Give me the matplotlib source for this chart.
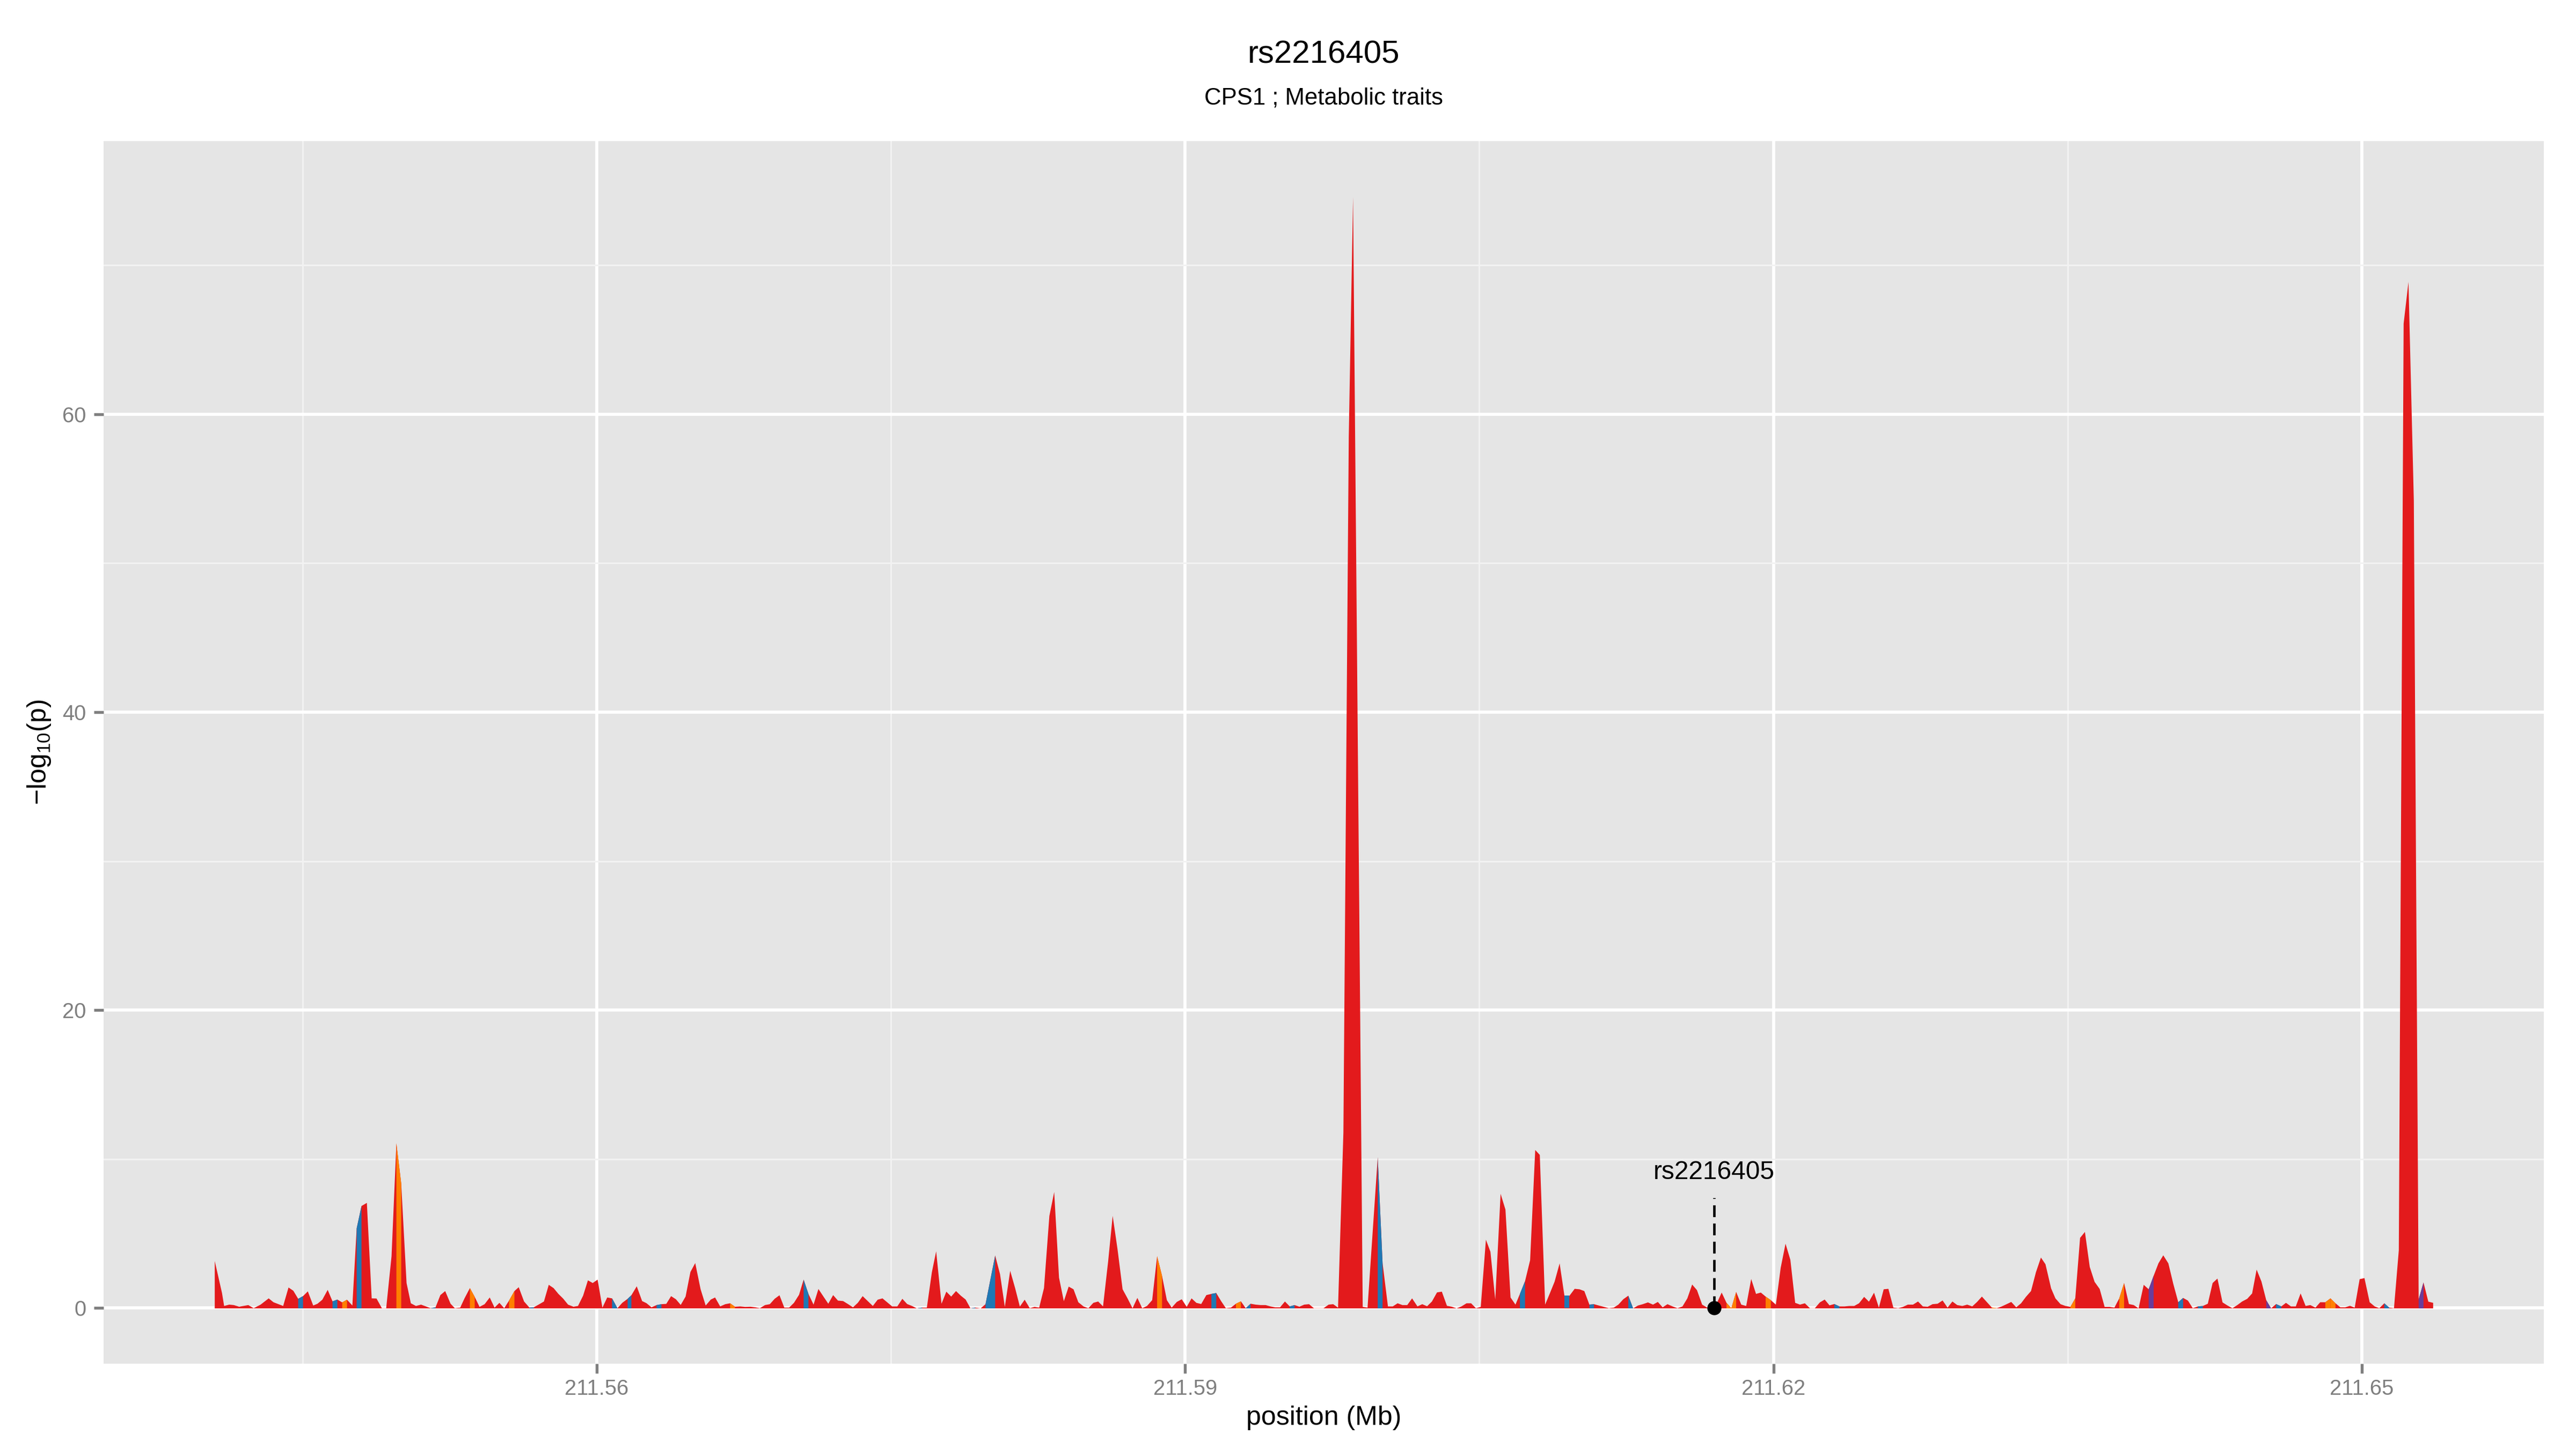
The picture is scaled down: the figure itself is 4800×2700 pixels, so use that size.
import numpy as np
import matplotlib
matplotlib.use('Agg')
import matplotlib.pyplot as plt

# regional association track for the lead SNP
# positions in bp, -log10(p), and the class of the segment that starts at each SNP
pos_bp = [
    211540506, 211540876, 211540985, 211541245, 211541477, 211541751, 211542216, 211542490, 211542845, 211543256,
    211543502, 211543995, 211544268, 211544514, 211544761, 211545007, 211545253, 211545527, 211545746, 211545992,
    211546265, 211546512, 211546758, 211547004, 211547250, 211547524, 211547743, 211547989, 211548263, 211548509,
    211548755, 211549029, 211549248, 211549521, 211549768, 211550014, 211550287, 211550506, 211550766, 211551026,
    211551272, 211551519, 211551765, 211552011, 211552257, 211552531, 211552750, 211553023, 211553242, 211553516,
    211553762, 211554008, 211554268, 211554528, 211554774, 211555021, 211555267, 211555513, 211555787, 211556006,
    211556279, 211556553, 211556772, 211557018, 211557292, 211557538, 211557784, 211558030, 211558276, 211558523,
    211558796, 211559029, 211559289, 211559535, 211559781, 211560028, 211560274, 211560520, 211560766, 211561040,
    211561286, 211561560, 211561751, 211562025, 211562298, 211562517, 211562777, 211563037, 211563283, 211563530,
    211563776, 211564022, 211564268, 211564515, 211564761, 211565007, 211565281, 211565540, 211565800, 211566019,
    211566279, 211566539, 211566785, 211567032, 211567305, 211567552, 211567825, 211568071, 211568304, 211568564,
    211568810, 211569056, 211569303, 211569549, 211569795, 211570041, 211570301, 211570534, 211570780, 211571040,
    211571289, 211571546, 211571792, 211572039, 211572285, 211572547, 211572805, 211573051, 211573297, 211573543,
    211573803, 211574063, 211574309, 211574556, 211574802, 211575048, 211575311, 211575568, 211575814, 211576060,
    211576307, 211576580, 211576818, 211577073, 211577292, 211577565, 211577812, 211578058, 211578304, 211578550,
    211578796, 211579043, 211579289, 211579563, 211579809, 211580301, 211580548, 211580794, 211581067, 211581314,
    211581560, 211581806, 211582066, 211582312, 211582545, 211582791, 211583065, 211583311, 211583557, 211583803,
    211584050, 211584296, 211584542, 211584805, 211585054, 211585308, 211585554, 211585801, 211586061, 211586293,
    211586539, 211586799, 211587051, 211587305, 211587552, 211587798, 211588044, 211588307, 211588559, 211588810,
    211589056, 211589303, 211589563, 211589814, 211590069, 211590315, 211590561, 211590808, 211591070, 211591327,
    211591574, 211591820, 211592066, 211592326, 211592578, 211592832, 211593078, 211593325, 211593585, 211593836,
    211594091, 211594337, 211594583, 211594829, 211595076, 211595322, 211595568, 211595814, 211596061, 211596307,
    211596553, 211596799, 211597046, 211597306, 211597538, 211597784, 211598058, 211598332, 211598550, 211599043,
    211599289, 211599809, 211600055, 211600329, 211600575, 211600821, 211601068, 211601314, 211601560, 211601834,
    211602080, 211602326, 211602572, 211602832, 211603078, 211603338, 211603585, 211603831, 211604077, 211604337,
    211604570, 211604816, 211605062, 211605325, 211605555, 211605801, 211606074, 211606321, 211606581, 211606832,
    211607059, 211607319, 211607579, 211607839, 211608072, 211608345, 211608592, 211608827, 211609084, 211609330,
    211609576, 211609850, 211610096, 211610343, 211610602, 211610835, 211611081, 211611341, 211611593, 211611847,
    211612080, 211612329, 211612586, 211612832, 211613079, 211613325, 211613587, 211613845, 211614091, 211614337,
    211614583, 211614843, 211615095, 211615349, 211615596, 211615842, 211616088, 211616351, 211616608, 211616980,
    211617347, 211617593, 211617839, 211618085, 211618345, 211618597, 211618852, 211619098, 211619344, 211619590,
    211619853, 211620110, 211620356, 211620603, 211620849, 211621095, 211621341, 211621588, 211621847, 211622099,
    211622354, 211622600, 211622846, 211623092, 211623352, 211623612, 211623858, 211624105, 211624351, 211624611,
    211624857, 211625117, 211625363, 211625609, 211625847, 211626102, 211626348, 211626594, 211626841, 211627103,
    211627360, 211627607, 211627853, 211628099, 211628359, 211628611, 211628865, 211629112, 211629358, 211629618,
    211629867, 211630124, 211630370, 211630616, 211630863, 211631125, 211631374, 211631629, 211631875, 211632113,
    211632367, 211632614, 211632860, 211633120, 211633371, 211633626, 211633858, 211634146, 211634365, 211634627,
    211634879, 211635131, 211635377, 211635623, 211635869, 211636116, 211636362, 211636622, 211636874, 211637128,
    211637374, 211637620, 211637867, 211638113, 211638359, 211638605, 211638868, 211639120, 211639372, 211639618,
    211639864, 211640124, 211640376, 211640630, 211640876, 211641123, 211641369, 211641631, 211641883, 211642135,
    211642381, 211642627, 211642887, 211643139, 211643393, 211643640, 211643886, 211644146, 211644395, 211644625,
    211644871, 211645117, 211645363, 211645618, 211645883, 211646121, 211646376, 211646622, 211646868, 211647123,
    211647361, 211647626, 211647867, 211648127, 211648390, 211648647, 211648893, 211649139, 211649385, 211649626,
    211649878, 211650124, 211650389, 211650644, 211650882, 211651136, 211651383, 211651629, 211651875, 211652121,
    211652368, 211652641, 211652887, 211653134, 211653380, 211653626,
]

logp = [
    3.18, 1.03, 0.16, 0.25, 0.22, 0.11, 0.22, 0.01, 0.25, 0.67,
    0.41, 0.16, 1.40, 1.18, 0.64, 0.82, 1.14, 0.19, 0.31, 0.58,
    1.24, 0.47, 0.59, 0.40, 0.58, 0.19, 5.37, 6.87, 7.08, 0.67,
    0.66, 0.01, 0.01, 3.50, 11.08, 8.38, 1.70, 0.34, 0.16, 0.25,
    0.13, 0.01, 0.07, 0.89, 1.16, 0.31, 0.01, 0.05, 0.67, 1.36,
    0.77, 0.10, 0.28, 0.73, 0.05, 0.37, 0.01, 0.52, 1.16, 1.42,
    0.46, 0.05, 0.07, 0.25, 0.46, 1.58, 1.36, 0.97, 0.65, 0.25,
    0.11, 0.16, 0.85, 1.88, 1.70, 1.93, 0.05, 0.73, 0.67, 0.01,
    0.37, 0.64, 0.88, 1.48, 0.49, 0.35, 0.07, 0.22, 0.28, 0.30,
    0.82, 0.61, 0.23, 0.79, 2.44, 3.04, 1.28, 0.19, 0.59, 0.73,
    0.13, 0.28, 0.34, 0.11, 0.13, 0.10, 0.11, 0.07, 0.01, 0.22,
    0.28, 0.64, 0.88, 0.05, 0.05, 0.37, 0.91, 1.93, 0.97, 0.25,
    1.30, 0.79, 0.31, 0.89, 0.52, 0.49, 0.28, 0.07, 0.37, 0.82,
    0.49, 0.16, 0.58, 0.67, 0.40, 0.13, 0.13, 0.64, 0.29, 0.16,
    0.00, 0.05, 0.05, 2.42, 3.83, 0.31, 1.12, 0.79, 1.16, 0.85,
    0.59, 0.00, 0.05, 0.00, 0.28, 3.55, 2.30, 0.10, 2.52, 1.38,
    0.12, 0.58, 0.01, 0.10, 0.05, 1.36, 6.20, 7.81, 2.06, 0.48,
    1.46, 1.28, 0.41, 0.13, 0.01, 0.37, 0.46, 0.13, 3.14, 6.21,
    3.98, 1.28, 0.67, 0.01, 0.70, 0.01, 0.16, 0.55, 3.50, 2.18,
    0.55, 0.05, 0.43, 0.61, 0.10, 0.67, 0.37, 0.29, 0.89, 0.97,
    1.03, 0.49, 0.01, 0.05, 0.31, 0.47, 0.01, 0.31, 0.25, 0.22,
    0.22, 0.13, 0.07, 0.07, 0.46, 0.13, 0.22, 0.11, 0.25, 0.28,
    0.01, 0.01, 0.01, 0.25, 0.28, 0.05, 11.80, 58.50, 74.60, 0.10,
    0.05, 10.15, 3.05, 0.13, 0.13, 0.34, 0.22, 0.22, 0.67, 0.13,
    0.28, 0.14, 0.46, 1.07, 1.12, 0.17, 0.11, 0.00, 0.13, 0.34,
    0.34, 0.01, 0.10, 4.61, 3.80, 0.59, 7.69, 6.63, 0.73, 0.25,
    0.97, 1.82, 3.23, 10.63, 10.30, 0.25, 1.03, 1.79, 3.02, 0.83,
    0.83, 1.31, 1.28, 1.16, 0.25, 0.28, 0.19, 0.10, 0.01, 0.05,
    0.25, 0.61, 0.85, 0.00, 0.19, 0.28, 0.40, 0.25, 0.43, 0.07,
    0.28, 0.13, 0.01, 0.13, 0.67, 1.60, 1.22, 0.25, 0.05, 0.00,
    1.06, 0.37, 0.01, 1.10, 0.25, 0.16, 1.97, 0.97, 1.06, 0.79,
    0.55, 0.25, 2.72, 4.34, 3.26, 0.37, 0.25, 0.34, 0.01, 0.01,
    0.40, 0.59, 0.20, 0.29, 0.13, 0.13, 0.16, 0.16, 0.34, 0.77,
    0.45, 1.05, 0.05, 1.28, 1.31, 0.05, 0.01, 0.10, 0.25, 0.25,
    0.46, 0.13, 0.11, 0.28, 0.31, 0.53, 0.05, 0.46, 0.22, 0.16,
    0.25, 0.13, 0.43, 0.79, 0.43, 0.05, 0.01, 0.13, 0.28, 0.43,
    0.07, 0.34, 0.77, 1.16, 2.42, 3.41, 2.96, 1.34, 0.67, 0.28,
    0.16, 0.10, 0.67, 4.73, 5.13, 2.78, 1.78, 1.30, 0.10, 0.10,
    0.05, 0.67, 1.70, 0.29, 0.22, 0.00, 1.58, 1.28, 2.18, 3.02,
    3.56, 3.02, 1.64, 0.41, 0.70, 0.52, 0.01, 0.13, 0.16, 0.31,
    1.70, 2.00, 0.40, 0.19, 0.01, 0.22, 0.46, 0.64, 1.00, 2.60,
    1.80, 0.54, 0.00, 0.29, 0.13, 0.37, 0.13, 0.13, 1.00, 0.16,
    0.22, 0.05, 0.41, 0.41, 0.67, 0.34, 0.07, 0.07, 0.17, 0.05,
    1.96, 2.03, 0.41, 0.13, 0.01, 0.34, 0.05, 0.01, 3.90, 66.10,
    68.90, 54.20, 0.60, 1.74, 0.45, 0.37,
]

# r = red, b = blue, o = orange, p = purple
seg_class = (
    'rrrrrrrrrr' 'rrrrbrrrrr' 'rbrorrbrrr' 'rrrrorrrrr' 'rbrrrrrrro'
    'rrrrrrrorr' 'rbrrrrrrrr' 'rrrrrrrrbr' 'rbrrrrrbrr' 'rrrrrrrrrr'
    'rrorrrrrrr' 'rrrrrrrbrr' 'rrrrrrrrrr' 'rrrrrrrrrr' 'brrrrrrrrr'
    'rbrrbrrrrr' 'rrrrrrrrrr' 'rrrrrrrrrr' 'rrrrrrrror' 'rrrrrrrrrb'
    'rrrrorbrrr' 'rrrrrbrrrr' 'rrrrrrrrrr' 'rbrrrrrrrr' 'rrrrrrrrrr'
    'rrrrrrrrrr' 'brrrrrrrrb' 'rrrrbrrrrr' 'rrbrrrrrrr' 'rrrrrrrrrr'
    'roorrrrrro' 'rrrrrrrrrr' 'rrrbrrrrrr' 'rrrrrrrrrr' 'rrrrrrrrrr'
    'rrrrrorrrr' 'rrrrrrrrrr' 'rorrrrrrrr' 'rorrrrrprr' 'rrrbrrrbrr'
    'rrrrrrrrrr' 'rprbrrrrrr' 'rrroorrrrr' 'rrrrrbrrrr' 'rrprrr'
)

class_colors = {'r': '#E31A1C', 'b': '#1F78B4', 'o': '#FF7F00', 'p': '#6A3D9A'}

lead_snp = 'rs2216405'
lead_pos_bp = 211616980
lead_logp = 0.0
subtitle = 'CPS1 ; Metabolic traits'

x_ticks = [211.56, 211.59, 211.62, 211.65]
x_minor = [211.545, 211.575, 211.605, 211.635]
y_ticks = [0, 20, 40, 60]
y_minor = [10, 30, 50, 70]

plt.rcParams['font.family'] = ['Liberation Sans', 'DejaVu Sans']
plt.rcParams['mathtext.fontset'] = 'custom'
plt.rcParams['mathtext.rm'] = 'Liberation Sans'

x = np.array(pos_bp) / 1e6
y = np.array(logp)

fig = plt.figure(figsize=(16, 9), dpi=300)
ax = fig.add_axes([0.0402, 0.0589, 0.9473, 0.8437])
ax.set_facecolor('#E5E5E5')

# base area, then recolour the segments that belong to other classes
ax.fill_between(x, 0, y, color=class_colors['r'], lw=0, zorder=2)
for i in range(len(x) - 1):
    c = seg_class[i]
    if c != 'r':
        ax.fill_between(x[i:i + 2], 0, y[i:i + 2], color=class_colors[c], lw=0, zorder=3)

# lead snp marker
xs = lead_pos_bp / 1e6
ax.plot([xs, xs], [lead_logp, 7.4], color='black', lw=1.1, ls=(0, (4.8, 2.6)), zorder=4)
ax.plot(xs, lead_logp, 'o', color='black', ms=5.3, zorder=5)
ax.text(xs, 8.66, lead_snp, ha='center', va='baseline', fontsize=11.5, zorder=5)

xr = x.max() - x.min()
ax.set_xlim(x.min() - 0.05 * xr, x.max() + 0.05 * xr)
yr = y.max() - y.min()
ax.set_ylim(y.min() - 0.05 * yr, y.max() + 0.05 * yr)

ax.set_xticks(x_ticks)
ax.set_xticklabels([f'{t:.2f}' for t in x_ticks])
ax.set_xticks(x_minor, minor=True)
ax.set_yticks(y_ticks)
ax.set_yticks(y_minor, minor=True)

ax.set_axisbelow(True)
ax.grid(which='major', color='white', lw=1.4)
ax.grid(which='minor', color='#F2F2F2', lw=0.75)
for s in ax.spines.values():
    s.set_visible(False)
ax.tick_params(which='major', length=4.3, width=1.3, color='#7F7F7F',
               labelcolor='#7F7F7F', labelsize=9.6)
ax.tick_params(axis='x', which='major', pad=2.5)
ax.tick_params(axis='y', which='major', pad=3.5)
ax.tick_params(which='minor', length=0)

cx = 0.0402 + 0.9473 / 2
fig.text(cx, 0.9563, lead_snp, ha='center', va='baseline', fontsize=14.4)
fig.text(cx, 0.9278, subtitle, ha='center', va='baseline', fontsize=10.5)
fig.text(cx, 0.0167, 'position (Mb)', ha='center', va='baseline', fontsize=12)
fig.text(0.0152, 0.0589 + 0.8437 / 2, '\u2212log$_{\\mathregular{10}}$(p)', rotation=90,
         ha='center', va='center', fontsize=12)

fig.savefig('out.png', dpi=300, facecolor='white')
